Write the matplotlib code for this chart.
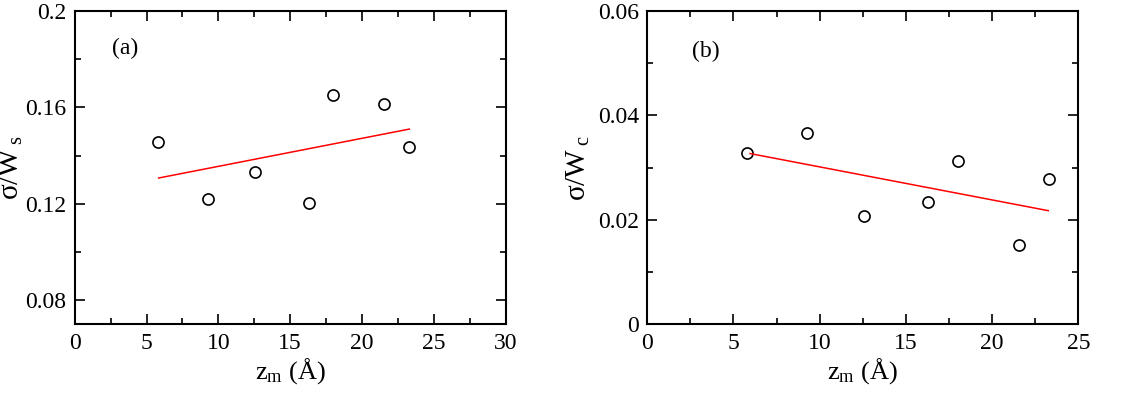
import matplotlib
matplotlib.use("Agg")
import matplotlib.pyplot as plt
from matplotlib.ticker import MultipleLocator

plt.rcParams['font.family'] = ['Liberation Serif', 'DejaVu Serif']
plt.rcParams['mathtext.fontset'] = 'custom'
plt.rcParams['mathtext.rm'] = 'Liberation Serif'
plt.rcParams['mathtext.it'] = 'Liberation Serif'

# Panel (a)
zm_a = [5.78, 9.26, 12.57, 16.28, 18.0, 21.5, 23.24]
sig_ws = [0.1457, 0.122, 0.1332, 0.1203, 0.1653, 0.1615, 0.1435]
fit_a_x = [5.84, 23.29]
fit_a_y = [0.1307, 0.1510]

# Panel (b)
zm_b = [5.78, 9.28, 12.59, 16.26, 18.0, 21.56, 23.3]
sig_wc = [0.0329, 0.0366, 0.0207, 0.0234, 0.0313, 0.0152, 0.0279]
fit_b_x = [5.96, 23.26]
fit_b_y = [0.0327, 0.02176]

fig = plt.figure(figsize=(11.39, 3.96), dpi=100)
W, H = 1139, 396
ax1 = fig.add_axes([74.7 / W, (H - 324.3) / H, 431 / W, 313.3 / H])
ax2 = fig.add_axes([647.3 / W, (H - 324.3) / H, 431 / W, 313.3 / H])

fs = 17
for ax in (ax1, ax2):
    ax.tick_params(which='both', direction='in', top=True, right=True, labelsize=fs, width=1.2)
    ax.tick_params(which='major', length=7, pad=6)
    ax.tick_params(which='minor', length=4)
    for s in ax.spines.values():
        s.set_linewidth(1.5)

ax1.plot(zm_a, sig_ws, 'o', mfc='none', mec='black', ms=8, mew=1.2)
ax1.plot(fit_a_x, fit_a_y, '-', color='red', lw=1.1)
ax1.set_xlim(0, 30)
ax1.set_ylim(0.07, 0.2)
ax1.xaxis.set_major_locator(MultipleLocator(5))
ax1.xaxis.set_minor_locator(MultipleLocator(2.5))
ax1.set_yticks([0.08, 0.12, 0.16, 0.2])
ax1.set_yticklabels(['0.08', '0.12', '0.16', '0.2'])
ax1.yaxis.set_minor_locator(MultipleLocator(0.02))
ax1.set_xlabel(r'z$_{\rm m}$ (Å)', fontsize=fs + 2, labelpad=2)
ax1.set_ylabel(r'σ/W$_{\;\rm s}$', fontsize=fs + 4, labelpad=0)
ax1.text(0.087, 0.882, '(a)', transform=ax1.transAxes, fontsize=fs, va='center', ha='left')

ax2.plot(zm_b, sig_wc, 'o', mfc='none', mec='black', ms=8, mew=1.2)
ax2.plot(fit_b_x, fit_b_y, '-', color='red', lw=1.1)
ax2.set_xlim(0, 25)
ax2.set_ylim(0, 0.06)
ax2.xaxis.set_major_locator(MultipleLocator(5))
ax2.xaxis.set_minor_locator(MultipleLocator(2.5))
ax2.set_yticks([0, 0.02, 0.04, 0.06])
ax2.set_yticklabels(['0', '0.02', '0.04', '0.06'])
ax2.yaxis.set_minor_locator(MultipleLocator(0.01))
ax2.set_xlabel(r'z$_{\rm m}$ (Å)', fontsize=fs + 2, labelpad=2)
ax2.set_ylabel(r'σ/W$_{\;\rm c}$', fontsize=fs + 4, labelpad=4)
ax2.text(0.103, 0.87, '(b)', transform=ax2.transAxes, fontsize=fs, va='center', ha='left')

fig.savefig('out.png', dpi=100)
